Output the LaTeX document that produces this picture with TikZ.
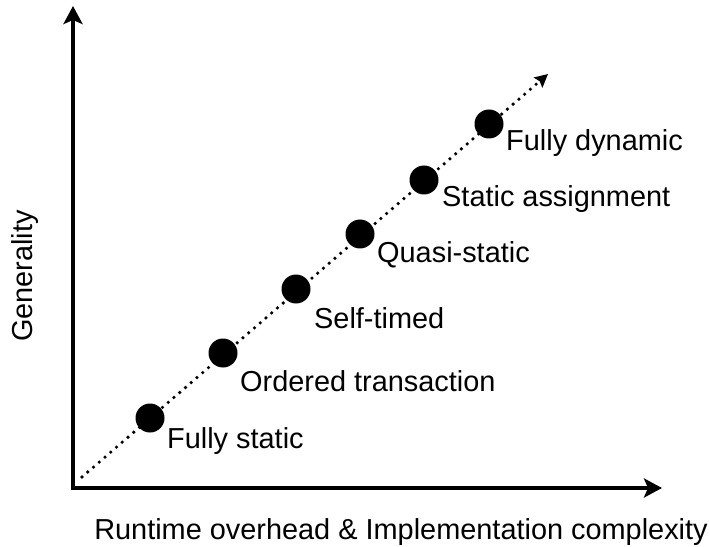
\documentclass[tikz,border=0pt]{standalone}
\usepackage{fontspec}
\setmainfont{Liberation Sans}
\usetikzlibrary{arrows.meta}
\begin{document}
\begin{tikzpicture}[x=1bp,y=-1bp,
  axis/.style={line width=4bp,{Stealth[length=18bp,width=19bp,inset=4bp]}-{Stealth[length=18bp,width=19bp,inset=4bp]}},
  trend/.style={line width=3.6bp,line cap=round,dash pattern=on 0bp off 7.6bp,-{Stealth[length=13bp,width=13bp,inset=2bp]}},
  stage/.style={circle,fill=black,inner sep=0pt,minimum size=29bp},
  lbl/.style={anchor=base west,inner sep=0pt,font=\fontsize{29}{31}\selectfont},
  axlbl/.style={inner sep=0pt,font=\fontsize{29}{31}\selectfont}]
\useasboundingbox (0,0) rectangle (710,547);
\coordinate (ytop) at (73,6);
\coordinate (orig) at (73,488);
\coordinate (xend) at (662,488);
\draw[axis,line join=miter] (ytop) -- (orig) -- (xend);
\coordinate (ts) at (82,477);
\coordinate (te) at (548,74);
\draw[trend] (ts) -- (te);
\node[stage] (d1) at (150,418) {};
\node[stage] (d2) at (223,353) {};
\node[stage] (d3) at (296,289) {};
\node[stage] (d4) at (360,234) {};
\node[stage] (d5) at (424,180) {};
\node[stage] (d6) at (489,124) {};
\node[lbl] (l1) at (167,448) {Fully static};
\node[lbl] (l2) at (240,391) {Ordered transaction};
\node[lbl] (l3) at (314,328) {Self-timed};
\node[lbl] (l4) at (377,263) {Quasi-static};
\node[lbl] (l5) at (442,207) {Static assignment};
\node[lbl] (l6) at (506,151) {Fully dynamic};
\node[axlbl,anchor=base] (xl) at (401,539) {Runtime overhead \& Implementation complexity};
\node[axlbl,anchor=base,rotate=90] (yl) at (32,276) {Generality};
\end{tikzpicture}
\end{document}
